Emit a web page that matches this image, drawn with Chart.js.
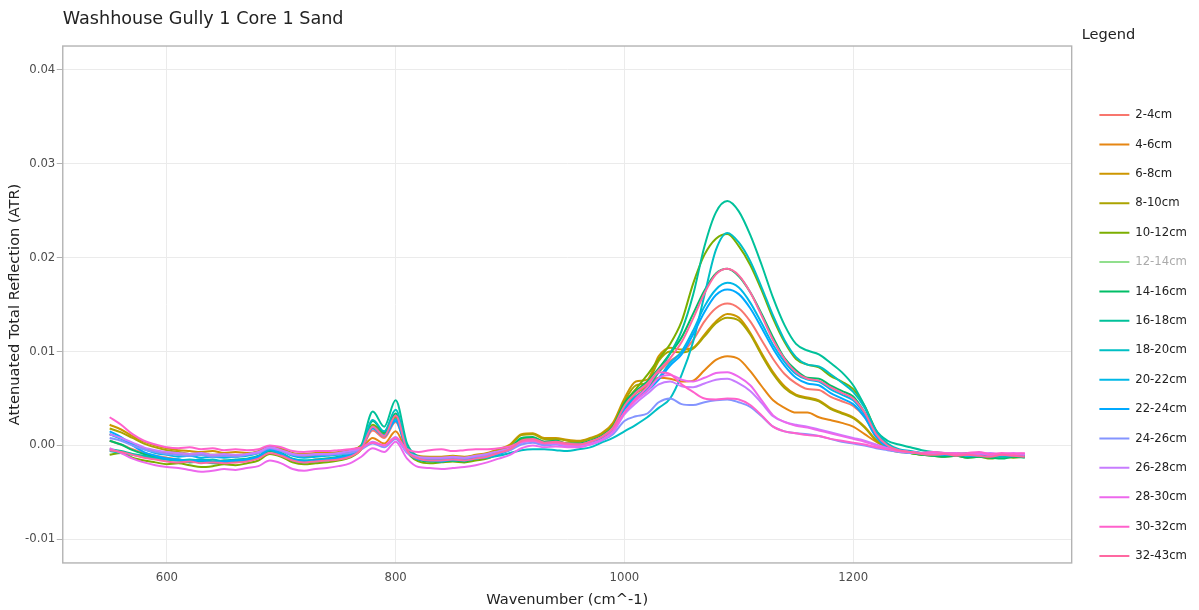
<!DOCTYPE html>
<html>
<head>
<meta charset="utf-8">
<title>Washhouse Gully 1 Core 1 Sand</title>
<script src="https://cdn.jsdelivr.net/npm/chart.js@4.4.1/dist/chart.umd.min.js"></script>
<style>
    html, body { margin: 0; padding: 0; background: #ffffff; }
    #wrap { width: 1199px; height: 610px; position: relative; }
</style>
</head>
<body>
<div id="wrap"><canvas id="atrChart"></canvas></div>
<script>
// Wavenumber grid shared by all depth slices (cm^-1)
const wavenumbers = [
    550, 560, 570, 580, 590, 600, 610, 620, 630, 640, 650, 660, 670, 680, 690, 700, 710, 720, 730, 740, 750, 760,
    770, 780, 790, 800, 810,
    820, 830, 840, 850, 860, 870, 880, 890, 900, 910, 920, 930, 940, 950, 960, 970, 980, 990,
    1000, 1010, 1020, 1030, 1040, 1050, 1060, 1070, 1080, 1090, 1100, 1110,
    1120, 1130, 1140, 1150, 1160, 1170, 1180, 1190, 1200, 1210, 1220, 1230,
    1240, 1250, 1260, 1270, 1280, 1290, 1300, 1310, 1320, 1330, 1340, 1350
];

const depthLabels = ["2-4cm", "4-6cm", "6-8cm", "8-10cm", "10-12cm", "12-14cm", "14-16cm", "16-18cm",
    "18-20cm", "20-22cm", "22-24cm", "24-26cm", "26-28cm", "28-30cm", "30-32cm", "32-43cm"];

// slices switched off in the legend
const hiddenDepths = ["12-14cm"];

const xTicks = [600, 800, 1000, 1200];
const yTicks = [-0.01, 0.00, 0.01, 0.02, 0.03, 0.04];

// ATR spectra, one array per depth slice
const atr2_4 = [
    0.0005, 0.0001, -0.0004, -0.0008, -0.0011, -0.0013, -0.0015, -0.0016, -0.0015, -0.0017, -0.0016,
    -0.0018, -0.0016, -0.0013, -0.0006, -0.0009, -0.0015, -0.0017, -0.0015, -0.0014, -0.0013, -0.0011,
    -0.0004, 0.0016, 0.0008, 0.0025, -0.0006,
    -0.0014, -0.0016, -0.0016, -0.0015, -0.0016, -0.0013, -0.0011, -0.0007, -0.0003,
    0.0006, 0.0007, 0.0003, 0.0004, 0.0002, 0.0002, 0.0004, 0.0009, 0.0019,
    0.0042, 0.0055, 0.0064, 0.0078, 0.0090, 0.0098, 0.0112, 0.0132, 0.0146, 0.0151, 0.0146, 0.0132,
    0.0112, 0.0092, 0.0076, 0.0066, 0.0060, 0.0059, 0.0052, 0.0047, 0.0042, 0.0030, 0.0010, -0.0002,
    -0.0005, -0.0007, -0.0008, -0.0009, -0.0008, -0.0010, -0.0009, -0.0010, -0.0009, -0.0011, -0.0010, -0.0010
];
const atr4_6 = [
    0.0012, 0.0008, 0.0002, -0.0003, -0.0006, -0.0008, -0.0010, -0.0011, -0.0010, -0.0012, -0.0011,
    -0.0012, -0.0010, -0.0008, -0.0002, -0.0005, -0.0010, -0.0012, -0.0011, -0.0010, -0.0009, -0.0007,
    -0.0003, 0.0008, 0.0002, 0.0015, -0.0007,
    -0.0012, -0.0014, -0.0015, -0.0013, -0.0014, -0.0012, -0.0010, -0.0006, -0.0002,
    0.0007, 0.0008, 0.0004, 0.0005, 0.0002, 0.0002, 0.0005, 0.0010, 0.0020,
    0.0040, 0.0056, 0.0062, 0.0072, 0.0071, 0.0068, 0.0069, 0.0080, 0.0091, 0.0095, 0.0092, 0.0079,
    0.0063, 0.0048, 0.0040, 0.0035, 0.0035, 0.0030, 0.0027, 0.0024, 0.0020, 0.0012, 0.0004, -0.0002,
    -0.0005, -0.0007, -0.0008, -0.0008, -0.0009, -0.0008, -0.0010, -0.0009, -0.0010, -0.0009, -0.0010, -0.0011
];
const atr6_8 = [
    0.0022, 0.0017, 0.0010, 0.0004, 0.0000, -0.0003, -0.0005, -0.0006, -0.0007, -0.0006, -0.0008,
    -0.0007, -0.0008, -0.0006, -0.0001, -0.0003, -0.0008, -0.0009, -0.0008, -0.0008, -0.0007, -0.0005,
    0.0000, 0.0020, 0.0012, 0.0030, -0.0003,
    -0.0011, -0.0012, -0.0012, -0.0011, -0.0012, -0.0010, -0.0008, -0.0004, 0.0001,
    0.0012, 0.0013, 0.0008, 0.0008, 0.0006, 0.0005, 0.0008, 0.0013, 0.0024,
    0.0050, 0.0068, 0.0070, 0.0095, 0.0104, 0.0102, 0.0104, 0.0118, 0.0132, 0.0140, 0.0136, 0.0120,
    0.0098, 0.0078, 0.0063, 0.0054, 0.0051, 0.0048, 0.0040, 0.0035, 0.0030, 0.0020, 0.0006, -0.0003,
    -0.0006, -0.0008, -0.0009, -0.0008, -0.0010, -0.0009, -0.0010, -0.0011, -0.0009, -0.0010, -0.0011, -0.0010
];
const atr8_10 = [
    0.0018, 0.0014, 0.0008, 0.0002, -0.0002, -0.0005, -0.0007, -0.0009, -0.0008, -0.0010, -0.0009,
    -0.0011, -0.0009, -0.0007, -0.0002, -0.0004, -0.0009, -0.0011, -0.0010, -0.0009, -0.0008, -0.0006,
    0.0000, 0.0019, 0.0011, 0.0029, -0.0004,
    -0.0012, -0.0013, -0.0014, -0.0012, -0.0013, -0.0011, -0.0009, -0.0005, 0.0000,
    0.0011, 0.0012, 0.0007, 0.0007, 0.0005, 0.0004, 0.0007, 0.0012, 0.0022,
    0.0047, 0.0064, 0.0067, 0.0090, 0.0100, 0.0099, 0.0103, 0.0116, 0.0130, 0.0136, 0.0133, 0.0118,
    0.0096, 0.0076, 0.0061, 0.0053, 0.0050, 0.0047, 0.0039, 0.0034, 0.0029, 0.0019, 0.0005, -0.0004,
    -0.0007, -0.0008, -0.0010, -0.0009, -0.0010, -0.0011, -0.0010, -0.0011, -0.0012, -0.0010, -0.0011, -0.0012
];
const atr10_12 = [
    -0.0010, -0.0008, -0.0013, -0.0016, -0.0018, -0.0020, -0.0019, -0.0021, -0.0023, -0.0022, -0.0020,
    -0.0021, -0.0019, -0.0016, -0.0009, -0.0012, -0.0018, -0.0020, -0.0019, -0.0018, -0.0016, -0.0013,
    -0.0004, 0.0022, 0.0012, 0.0032, -0.0006,
    -0.0017, -0.0019, -0.0018, -0.0017, -0.0018, -0.0016, -0.0014, -0.0009, -0.0004,
    0.0006, 0.0008, 0.0003, 0.0004, 0.0001, 0.0001, 0.0004, 0.0009, 0.0020,
    0.0045, 0.0060, 0.0075, 0.0092, 0.0108, 0.0132, 0.0172, 0.0203, 0.0220, 0.0225, 0.0212, 0.0192,
    0.0165, 0.0135, 0.0110, 0.0092, 0.0086, 0.0083, 0.0074, 0.0068, 0.0060, 0.0042, 0.0016, 0.0001,
    -0.0005, -0.0008, -0.0010, -0.0011, -0.0012, -0.0011, -0.0013, -0.0012, -0.0014, -0.0012, -0.0013, -0.0012
];
const atr12_14 = [
    0.0000, -0.0003, -0.0007, -0.0010, -0.0012, -0.0013, -0.0014, -0.0015, -0.0014, -0.0016, -0.0015,
    -0.0016, -0.0014, -0.0012, -0.0005, -0.0008, -0.0014, -0.0015, -0.0014, -0.0013, -0.0012, -0.0010,
    -0.0003, 0.0020, 0.0011, 0.0030, -0.0005,
    -0.0014, -0.0015, -0.0016, -0.0014, -0.0015, -0.0013, -0.0011, -0.0007, -0.0002,
    0.0007, 0.0009, 0.0004, 0.0005, 0.0003, 0.0002, 0.0005, 0.0010, 0.0020,
    0.0044, 0.0057, 0.0068, 0.0083, 0.0100, 0.0120, 0.0148, 0.0175, 0.0192, 0.0197, 0.0188, 0.0170,
    0.0146, 0.0120, 0.0098, 0.0083, 0.0077, 0.0075, 0.0066, 0.0060, 0.0053, 0.0037, 0.0013, 0.0000,
    -0.0005, -0.0007, -0.0009, -0.0010, -0.0009, -0.0011, -0.0010, -0.0012, -0.0011, -0.0010, -0.0012, -0.0011
];
const atr14_16 = [
    0.0005, 0.0001, -0.0005, -0.0009, -0.0012, -0.0015, -0.0016, -0.0018, -0.0017, -0.0019, -0.0018,
    -0.0017, -0.0016, -0.0013, -0.0006, -0.0010, -0.0016, -0.0018, -0.0017, -0.0016, -0.0014, -0.0011,
    -0.0002, 0.0026, 0.0014, 0.0034, -0.0004,
    -0.0015, -0.0017, -0.0017, -0.0016, -0.0017, -0.0014, -0.0012, -0.0008, -0.0003,
    0.0008, 0.0009, 0.0004, 0.0005, 0.0002, 0.0002, 0.0005, 0.0010, 0.0020,
    0.0045, 0.0058, 0.0068, 0.0082, 0.0098, 0.0115, 0.0140, 0.0165, 0.0183, 0.0188, 0.0180, 0.0163,
    0.0140, 0.0115, 0.0093, 0.0080, 0.0072, 0.0071, 0.0064, 0.0058, 0.0052, 0.0035, 0.0012, 0.0000,
    -0.0006, -0.0008, -0.0010, -0.0011, -0.0012, -0.0011, -0.0013, -0.0012, -0.0013, -0.0014, -0.0012, -0.0013
];
const atr16_18 = [
    -0.0004, -0.0006, -0.0009, -0.0011, -0.0013, -0.0014, -0.0015, -0.0016, -0.0015, -0.0017, -0.0016,
    -0.0015, -0.0014, -0.0011, -0.0004, -0.0008, -0.0014, -0.0016, -0.0015, -0.0014, -0.0012, -0.0009,
    0.0000, 0.0036, 0.0020, 0.0048, 0.0002,
    -0.0012, -0.0015, -0.0016, -0.0015, -0.0016, -0.0014, -0.0012, -0.0008, -0.0004,
    0.0005, 0.0007, 0.0003, 0.0004, 0.0001, 0.0001, 0.0003, 0.0009, 0.0018,
    0.0040, 0.0052, 0.0062, 0.0078, 0.0098, 0.0122, 0.0160, 0.0212, 0.0248, 0.0260, 0.0249, 0.0224,
    0.0192, 0.0157, 0.0128, 0.0108, 0.0101, 0.0097, 0.0088, 0.0078, 0.0064, 0.0042, 0.0016, 0.0005,
    0.0001, -0.0002, -0.0005, -0.0007, -0.0008, -0.0009, -0.0008, -0.0010, -0.0009, -0.0011, -0.0010, -0.0009
];
const atr18_20 = [
    -0.0006, -0.0008, -0.0010, -0.0012, -0.0014, -0.0015, -0.0016, -0.0015, -0.0016, -0.0015, -0.0017,
    -0.0016, -0.0015, -0.0012, -0.0005, -0.0009, -0.0015, -0.0016, -0.0016, -0.0015, -0.0013, -0.0010,
    -0.0002, 0.0027, 0.0015, 0.0038, -0.0002,
    -0.0013, -0.0015, -0.0015, -0.0016, -0.0015, -0.0014, -0.0013, -0.0011, -0.0008,
    -0.0005, -0.0004, -0.0004, -0.0005, -0.0006, -0.0004, -0.0002, 0.0003, 0.0008,
    0.0015, 0.0022, 0.0030, 0.0040, 0.0050, 0.0075, 0.0110, 0.0160, 0.0208, 0.0226, 0.0216, 0.0196,
    0.0168, 0.0138, 0.0112, 0.0094, 0.0086, 0.0084, 0.0076, 0.0067, 0.0057, 0.0040, 0.0015, 0.0002,
    -0.0004, -0.0006, -0.0008, -0.0009, -0.0010, -0.0009, -0.0011, -0.0010, -0.0011, -0.0012, -0.0011, -0.0010
];
const atr20_22 = [
    0.0012, 0.0007, 0.0001, -0.0004, -0.0008, -0.0010, -0.0012, -0.0011, -0.0013, -0.0012, -0.0013,
    -0.0012, -0.0011, -0.0008, -0.0002, -0.0006, -0.0011, -0.0013, -0.0012, -0.0011, -0.0010, -0.0008,
    -0.0002, 0.0020, 0.0011, 0.0028, -0.0005,
    -0.0014, -0.0015, -0.0016, -0.0014, -0.0015, -0.0013, -0.0011, -0.0008, -0.0004,
    0.0004, 0.0006, 0.0002, 0.0003, 0.0001, 0.0000, 0.0003, 0.0007, 0.0016,
    0.0040, 0.0052, 0.0060, 0.0072, 0.0088, 0.0100, 0.0122, 0.0148, 0.0166, 0.0173, 0.0168, 0.0152,
    0.0130, 0.0107, 0.0089, 0.0076, 0.0070, 0.0068, 0.0060, 0.0054, 0.0048, 0.0033, 0.0011, -0.0001,
    -0.0005, -0.0007, -0.0008, -0.0009, -0.0010, -0.0009, -0.0010, -0.0011, -0.0010, -0.0009, -0.0011, -0.0010
];
const atr22_24 = [
    0.0015, 0.0009, 0.0000, -0.0007, -0.0011, -0.0014, -0.0015, -0.0017, -0.0016, -0.0018, -0.0017,
    -0.0016, -0.0015, -0.0012, -0.0004, -0.0009, -0.0015, -0.0017, -0.0016, -0.0015, -0.0013, -0.0010,
    -0.0003, 0.0018, 0.0010, 0.0026, -0.0006,
    -0.0015, -0.0016, -0.0017, -0.0015, -0.0016, -0.0014, -0.0012, -0.0009, -0.0005,
    0.0003, 0.0005, 0.0001, 0.0002, 0.0000, 0.0000, 0.0002, 0.0007, 0.0015,
    0.0038, 0.0050, 0.0058, 0.0070, 0.0085, 0.0097, 0.0118, 0.0142, 0.0160, 0.0166, 0.0161, 0.0146,
    0.0125, 0.0103, 0.0085, 0.0072, 0.0066, 0.0064, 0.0056, 0.0050, 0.0044, 0.0030, 0.0009, -0.0002,
    -0.0005, -0.0007, -0.0009, -0.0008, -0.0010, -0.0009, -0.0011, -0.0010, -0.0009, -0.0010, -0.0011, -0.0010
];
const atr24_26 = [
    0.0008, 0.0005, 0.0000, -0.0004, -0.0007, -0.0009, -0.0010, -0.0011, -0.0010, -0.0012, -0.0011,
    -0.0012, -0.0010, -0.0008, -0.0003, -0.0006, -0.0010, -0.0011, -0.0010, -0.0010, -0.0009, -0.0008,
    -0.0004, 0.0002, -0.0002, 0.0007, -0.0008,
    -0.0013, -0.0014, -0.0014, -0.0013, -0.0014, -0.0012, -0.0011, -0.0008, -0.0005,
    0.0001, 0.0003, 0.0000, 0.0001, -0.0001, -0.0001, 0.0001, 0.0005, 0.0012,
    0.0026, 0.0031, 0.0034, 0.0046, 0.0050, 0.0044, 0.0043, 0.0046, 0.0048, 0.0049, 0.0046, 0.0041,
    0.0031, 0.0020, 0.0015, 0.0013, 0.0012, 0.0010, 0.0007, 0.0004, 0.0002, 0.0000, -0.0003, -0.0005,
    -0.0007, -0.0008, -0.0008, -0.0009, -0.0008, -0.0010, -0.0009, -0.0008, -0.0010, -0.0009, -0.0010, -0.0009
];
const atr26_28 = [
    0.0012, 0.0008, 0.0003, -0.0002, -0.0005, -0.0007, -0.0008, -0.0009, -0.0008, -0.0010, -0.0009,
    -0.0010, -0.0009, -0.0007, -0.0002, -0.0005, -0.0009, -0.0010, -0.0009, -0.0009, -0.0008, -0.0006,
    -0.0003, 0.0004, 0.0000, 0.0009, -0.0007,
    -0.0012, -0.0013, -0.0013, -0.0012, -0.0013, -0.0011, -0.0009, -0.0006, -0.0003,
    0.0003, 0.0005, 0.0002, 0.0002, 0.0000, 0.0000, 0.0002, 0.0006, 0.0014,
    0.0033, 0.0045, 0.0055, 0.0065, 0.0068, 0.0063, 0.0062, 0.0066, 0.0070, 0.0071, 0.0066, 0.0058,
    0.0045, 0.0031, 0.0025, 0.0022, 0.0020, 0.0017, 0.0014, 0.0011, 0.0008, 0.0005, 0.0001, -0.0003,
    -0.0006, -0.0007, -0.0008, -0.0009, -0.0008, -0.0009, -0.0010, -0.0009, -0.0008, -0.0010, -0.0009, -0.0010
];
const atr28_30 = [
    -0.0003, -0.0008, -0.0014, -0.0018, -0.0021, -0.0023, -0.0024, -0.0026, -0.0028, -0.0027, -0.0025,
    -0.0026, -0.0024, -0.0022, -0.0016, -0.0019, -0.0025, -0.0027, -0.0025, -0.0024, -0.0022, -0.0019,
    -0.0012, -0.0003, -0.0007, 0.0004, -0.0014,
    -0.0023, -0.0024, -0.0025, -0.0024, -0.0023, -0.0021, -0.0018, -0.0014, -0.0010,
    -0.0003, 0.0000, -0.0002, -0.0001, -0.0002, -0.0002, 0.0001, 0.0006, 0.0015,
    0.0035, 0.0048, 0.0058, 0.0072, 0.0075, 0.0070, 0.0068, 0.0072, 0.0077, 0.0078, 0.0073, 0.0064,
    0.0048, 0.0032, 0.0025, 0.0021, 0.0019, 0.0016, 0.0013, 0.0010, 0.0007, 0.0004, 0.0000, -0.0003,
    -0.0006, -0.0007, -0.0008, -0.0007, -0.0009, -0.0008, -0.0009, -0.0008, -0.0010, -0.0009, -0.0008, -0.0009
];
const atr30_32 = [
    0.0030, 0.0022, 0.0012, 0.0005, 0.0001, -0.0002, -0.0003, -0.0002, -0.0004, -0.0003, -0.0005,
    -0.0004, -0.0005, -0.0004, 0.0000, -0.0002, -0.0006, -0.0007, -0.0006, -0.0006, -0.0005, -0.0004,
    -0.0002, 0.0003, 0.0000, 0.0008, -0.0004,
    -0.0007, -0.0005, -0.0004, -0.0006, -0.0005, -0.0004, -0.0004, -0.0003, -0.0001,
    0.0004, 0.0005, 0.0002, 0.0003, 0.0001, 0.0001, 0.0004, 0.0009, 0.0018,
    0.0035, 0.0050, 0.0062, 0.0078, 0.0076, 0.0065, 0.0057, 0.0050, 0.0049, 0.0050, 0.0049, 0.0043,
    0.0032, 0.0020, 0.0015, 0.0013, 0.0011, 0.0010, 0.0007, 0.0005, 0.0003, 0.0001, -0.0002, -0.0004,
    -0.0006, -0.0007, -0.0008, -0.0007, -0.0008, -0.0009, -0.0008, -0.0007, -0.0009, -0.0008, -0.0009, -0.0008
];
const atr32_43 = [
    -0.0005, -0.0007, -0.0010, -0.0013, -0.0015, -0.0017, -0.0018, -0.0017, -0.0019, -0.0018, -0.0019,
    -0.0018, -0.0017, -0.0014, -0.0008, -0.0011, -0.0016, -0.0018, -0.0017, -0.0016, -0.0015, -0.0012,
    -0.0004, 0.0020, 0.0010, 0.0032, -0.0005,
    -0.0014, -0.0016, -0.0016, -0.0015, -0.0016, -0.0014, -0.0012, -0.0008, -0.0004,
    0.0005, 0.0007, 0.0003, 0.0004, 0.0002, 0.0001, 0.0004, 0.0009, 0.0019,
    0.0042, 0.0056, 0.0066, 0.0080, 0.0093, 0.0110, 0.0135, 0.0162, 0.0182, 0.0188, 0.0181, 0.0163,
    0.0138, 0.0112, 0.0092, 0.0078, 0.0071, 0.0069, 0.0062, 0.0056, 0.0050, 0.0035, 0.0012, 0.0000,
    -0.0005, -0.0007, -0.0009, -0.0010, -0.0009, -0.0011, -0.0010, -0.0011, -0.0012, -0.0010, -0.0011, -0.0012
];

const seriesValues = [atr2_4, atr4_6, atr6_8, atr8_10, atr10_12, atr12_14, atr14_16, atr16_18,
    atr18_20, atr20_22, atr22_24, atr24_26, atr26_28, atr28_30, atr30_32, atr32_43];

// hue palette, one colour per slice
const lineColors = ["#F8766D", "#E68613", "#CD9600", "#ABA300", "#7CAE00", "#0CB702", "#00BE67", "#00C19A",
    "#00BFC4", "#00B8E7", "#00A9FF", "#8494FF", "#C77CFF", "#ED68ED", "#FF61CC", "#FF68A1"];

function fade(hex, alpha) {
    const n = parseInt(hex.slice(1), 16);
    return "rgba(" + (n >> 16) + "," + ((n >> 8) & 255) + "," + (n & 255) + "," + alpha + ")";
}

const datasets = depthLabels.map(function (label, i) {
    return {
        label: label,
        data: seriesValues[i].map((v, j) => ({ x: wavenumbers[j], y: v })),
        borderColor: lineColors[i],
        backgroundColor: lineColors[i],
        borderWidth: 2,
        pointRadius: 0,
        cubicInterpolationMode: "monotone",
        hidden: hiddenDepths.includes(label),
        order: -i  // later slices on top
    };
});

// frame around the plotting panel
const panelBorder = {
    id: "panelBorder",
    afterDatasetsDraw(chart) {
        const { ctx, chartArea: a } = chart;
        ctx.save();
        ctx.strokeStyle = "#b3b3b3";
        ctx.lineWidth = 1.4;
        ctx.strokeRect(a.left, a.top, a.right - a.left, a.bottom - a.top);
        ctx.restore();
    }
};

Chart.defaults.font.family = "'DejaVu Sans', Verdana, sans-serif";

new Chart(document.getElementById("atrChart"), {
    type: "line",
    data: { datasets: datasets },
    options: {
        responsive: true,
        maintainAspectRatio: false,
        animation: false,
        devicePixelRatio: 1,
        layout: { padding: { top: 4, right: 2, bottom: 0, left: 0 } },
        scales: {
            x: {
                type: "linear",
                min: 509,
                max: 1391,
                afterBuildTicks: s => { s.ticks = xTicks.map(v => ({ value: v })); },
                ticks: { callback: v => String(v), color: "#4d4d4d", font: { size: 11.7 }, padding: 8, maxRotation: 0 },
                grid: { color: "#ebebeb", drawTicks: false, tickLength: 0 },
                border: { display: false },
                title: {
                    display: true, text: "Wavenumber (cm^-1)", color: "#222",
                    font: { size: 14.6 }, padding: { top: -1.5, bottom: 1 }
                }
            },
            y: {
                type: "linear",
                min: -0.0125,
                max: 0.0425,
                afterBuildTicks: s => { s.ticks = yTicks.map(v => ({ value: v })); },
                ticks: { callback: v => v.toFixed(2), color: "#4d4d4d", font: { size: 11.7 }, padding: 1.5 },
                grid: { color: "#ebebeb", tickColor: "#b3b3b3", tickLength: 6, drawTicks: true },
                border: { display: false },
                title: {
                    display: true, text: "Attenuated Total Reflection (ATR)", color: "#222",
                    font: { size: 14.6 }, padding: { top: 6, bottom: 0 }
                }
            },
            // empty strip between the panel and the legend
            y2: {
                position: "right",
                display: true,
                afterFit: s => { s.width = 10; },
                ticks: { display: false },
                grid: { display: false },
                border: { display: false }
            }
        },
        plugins: {
            title: {
                display: true,
                text: "Washhouse Gully 1 Core 1 Sand",
                align: "start",
                fullSize: false,
                color: "#222",
                font: { size: 17.6, weight: "normal" },
                padding: { top: 4.4, bottom: 16.5 }
            },
            legend: {
                position: "right",
                align: "start",
                title: {
                    display: true,
                    text: "Legend",
                    position: "start",
                    color: "#222",
                    font: { size: 14.6 },
                    padding: { top: 23.5, bottom: 46.5 }
                },
                labels: {
                    boxWidth: 30,
                    boxHeight: 2,
                    padding: 17.7,
                    color: "#222",
                    font: { size: 11.7 },
                    generateLabels: function (chart) {
                        return chart.data.datasets.map(function (ds, i) {
                            const off = !chart.isDatasetVisible(i);
                            return {
                                text: ds.label,
                                fillStyle: off ? fade(ds.borderColor, 0.45) : ds.borderColor,
                                strokeStyle: ds.borderColor,
                                lineWidth: 0,
                                fontColor: off ? "#ababab" : "#222",
                                hidden: false,
                                datasetIndex: i
                            };
                        });
                    }
                }
            },
            tooltip: { enabled: false }
        }
    },
    plugins: [panelBorder]
});
</script>
</body>
</html>
